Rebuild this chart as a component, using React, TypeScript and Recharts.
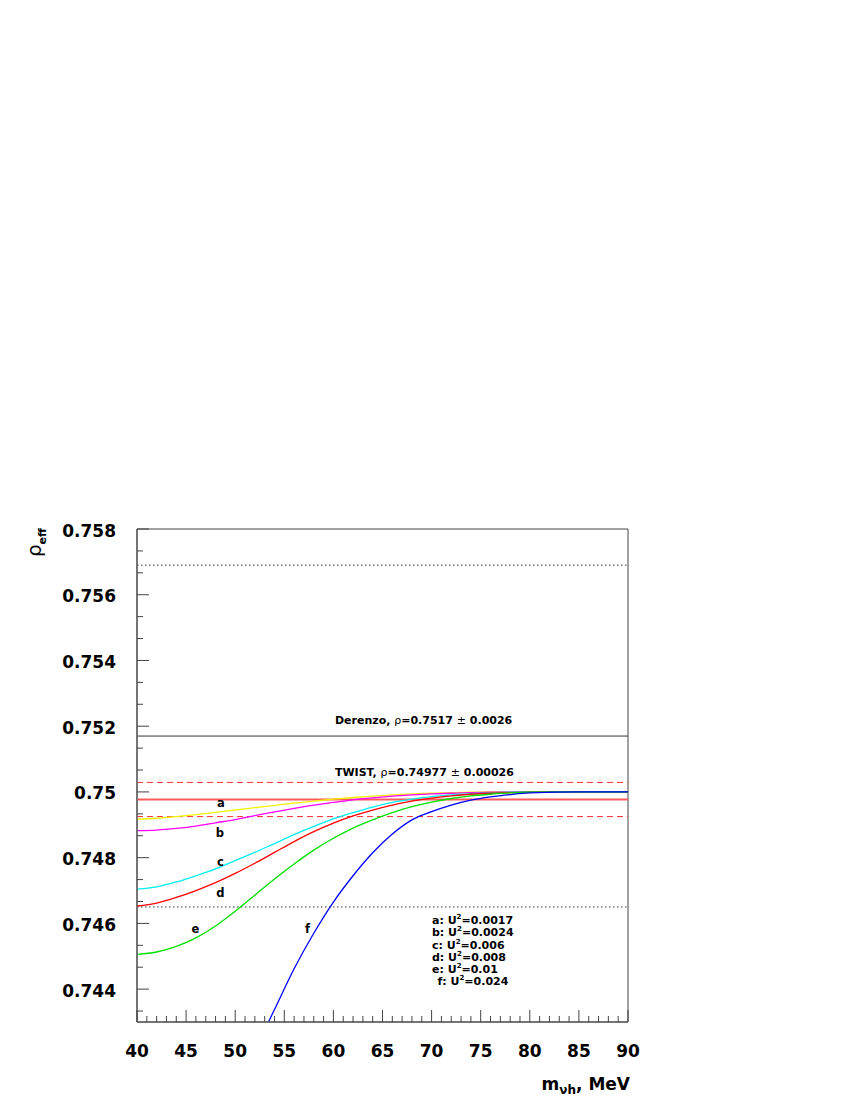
import { LineChart, Line, XAxis, YAxis, ReferenceLine, ReferenceArea, ReferenceDot } from 'recharts';

// heavy-neutrino mass grid (MeV) for curves a-e
const massGrid = [40, 42, 44, 46, 48, 50, 52, 54, 56, 58, 60, 62, 64, 66, 68, 70, 72, 74, 76, 78, 80, 85, 90];
const rhoA = [0.74917, 0.7492, 0.74925, 0.74931, 0.74938, 0.74945, 0.74952, 0.74959, 0.74966, 0.74972, 0.74978, 0.74983, 0.74987, 0.74991, 0.74994, 0.74996, 0.74998, 0.74999, 0.75, 0.75, 0.75, 0.75, 0.75];
const rhoB = [0.74882, 0.74884, 0.74889, 0.74896, 0.74906, 0.74916, 0.74928, 0.74939, 0.7495, 0.7496, 0.74968, 0.74976, 0.74982, 0.74987, 0.74991, 0.74994, 0.74996, 0.74998, 0.74999, 0.75, 0.75, 0.75, 0.75];
const rhoC = [0.74704, 0.74711, 0.74726, 0.74745, 0.74766, 0.74791, 0.74816, 0.74843, 0.7487, 0.74895, 0.74918, 0.74937, 0.74954, 0.74968, 0.74978, 0.74986, 0.74991, 0.74995, 0.74997, 0.74999, 0.75, 0.75, 0.75];
const rhoD = [0.74653, 0.74662, 0.74679, 0.747, 0.74724, 0.74752, 0.74783, 0.74816, 0.74849, 0.74879, 0.74905, 0.74927, 0.74945, 0.7496, 0.74972, 0.74981, 0.74988, 0.74993, 0.74996, 0.74998, 0.74999, 0.75, 0.75];
const rhoE = [0.74506, 0.74513, 0.7453, 0.74556, 0.74592, 0.74637, 0.74686, 0.74735, 0.74781, 0.74823, 0.74859, 0.7489, 0.74915, 0.74937, 0.74955, 0.74969, 0.7498, 0.74988, 0.74993, 0.74997, 0.74999, 0.75, 0.75];

// curve f starts below the visible range
const massF = [50, 52, 54, 56, 58, 60, 62, 64, 66, 68, 70, 72, 74, 76, 78, 80, 85, 90];
const rhoF = [0.7411, 0.74215, 0.74338, 0.74462, 0.7457, 0.74665, 0.74745, 0.74815, 0.74872, 0.74915, 0.7494, 0.7496, 0.74975, 0.74985, 0.74992, 0.74997, 0.75, 0.75];

const curveNames = ['a', 'b', 'c', 'd', 'e', 'f'];
const curveColors = ['#f2f200', '#ff00ff', '#00f0f0', '#ff0000', '#00e000', '#0000ff'];
const couplings = ['0.0017', '0.0024', '0.006', '0.008', '0.01', '0.024'];
const letterMass = [48.55, 48.45, 48.5, 48.5, 45.94, 57.36];
const letterRho = [0.74953, 0.74862, 0.747747, 0.746813, 0.745718, 0.745718];

const derenzo = { center: 0.7517, sigma: 0.0026 };
const twist = { center: 0.74977, sigma: 0.00026 };

const xMajorTicks = [40, 45, 50, 55, 60, 65, 70, 75, 80, 85, 90];
const yMajorTicks = [0.744, 0.746, 0.748, 0.75, 0.752, 0.754, 0.756, 0.758];
const yTickLabels = ['0.744', '0.746', '0.748', '0.75', '0.752', '0.754', '0.756', '0.758'];

const xAllTicks: number[] = [];
for (let m = 40; m <= 90; m++) xAllTicks.push(m);
const yAllTicks: number[] = [];
for (let i = -1; i <= 21; i++) yAllTicks.push(+(0.744 + (i * 0.002) / 3).toFixed(6));

const series = [rhoA, rhoB, rhoC, rhoD, rhoE].map((vals) => vals.map((r, i) => ({ m: massGrid[i], rho: r })));
series.push(rhoF.map((r, i) => ({ m: massF[i], rho: r })));

const FONT = 'DejaVu Sans';

const XTick = (props: any) => {
  const { x, y, payload } = props;
  const idx = xMajorTicks.indexOf(payload.value);
  const major = idx >= 0;
  return (
    <g>
      <line x1={x} x2={x} y1={y} y2={y - (major ? 12 : 6)} stroke="#444" />
      {major && (
        <text x={x} y={y + 35} textAnchor="middle" fontFamily={FONT} fontWeight="bold" fontSize={17} fill="#000">
          {xMajorTicks[idx]}
        </text>
      )}
    </g>
  );
};

const YTick = (props: any) => {
  const { x, y, payload } = props;
  const idx = yMajorTicks.findIndex((t) => Math.abs(t - payload.value) < 1e-7);
  const major = idx >= 0;
  return (
    <g>
      <line x1={x} x2={x + (major ? 12 : 6)} y1={y} y2={y} stroke="#444" />
      {major && (
        <text x={x - 21} y={y + 7.5} textAnchor="end" fontFamily={FONT} fontWeight="bold" fontSize={17} fill="#000">
          {yTickLabels[idx]}
        </text>
      )}
    </g>
  );
};

const xTitle = () => (
  <text x={630} y={1090} textAnchor="end" fontFamily={FONT} fontWeight="bold" fontSize={17} fill="#000">
    m<tspan dy={4} fontSize={12}>νh</tspan>
    <tspan dy={-4}>, MeV</tspan>
  </text>
);

const yTitle = () => (
  <text transform="translate(41,528) rotate(-90)" textAnchor="end" fontFamily={FONT} fontSize={20} fill="#000">
    ρ<tspan dy={5} fontSize={11} fontWeight="bold">eff</tspan>
  </text>
);

const noteText = (title: string, c: { center: number; sigma: number }) => (p: any) => (
  <text x={p.cx} y={p.cy} fontFamily={FONT} fontWeight="bold" fontSize={11} fill="#000">
    {title}, <tspan fontWeight="normal">ρ</tspan>={c.center} <tspan fontWeight="normal">±</tspan> {c.sigma}
  </text>
);

const letterShape = (name: string) => (p: any) => (
  <text x={p.cx} y={p.cy} textAnchor="middle" fontFamily={FONT} fontWeight="bold" fontSize={11.5} fill="#000">
    {name}
  </text>
);

const legendShape = (p: any) => (
  <g>
    {curveNames.map((n, i) => (
      <text key={n} x={p.cx + (n === 'f' ? 5.5 : 0)} y={p.cy + i * 12.3} fontFamily={FONT} fontWeight="bold" fontSize={11} fill="#000">
        {n}: U<tspan dy={-5} fontSize={7}>2</tspan>
        <tspan dy={5}>={couplings[i]}</tspan>
      </text>
    ))}
  </g>
);

export default function App() {
  return (
    <div>
      <style>{'body{margin:0;background:#fff}'}</style>
      <LineChart width={850} height={1100} margin={{ top: 529, right: 222, bottom: 18, left: 37 }}>
        <XAxis
          type="number"
          dataKey="m"
          domain={[40, 90]}
          allowDataOverflow
          ticks={xAllTicks}
          interval={0}
          tickSize={0}
          tickMargin={0}
          tickLine={false}
          tick={<XTick />}
          height={60}
          axisLine={{ stroke: '#666', strokeWidth: 1.5 }}
          label={xTitle}
        />
        <YAxis
          type="number"
          domain={[0.743, 0.758]}
          allowDataOverflow
          ticks={yAllTicks}
          interval={0}
          tickSize={0}
          tickMargin={0}
          tickLine={false}
          tick={<YTick />}
          width={100}
          axisLine={{ stroke: '#666', strokeWidth: 1.5 }}
          label={yTitle}
        />
        <ReferenceArea x1={40} x2={90} y1={0.743} y2={0.758} fill="none" stroke="#444" strokeWidth={1} />
        <ReferenceLine y={derenzo.center + 2 * derenzo.sigma} stroke="#333" strokeDasharray="1.5 2.5" />
        <ReferenceLine y={derenzo.center} stroke="#333" strokeWidth={1} />
        <ReferenceLine y={derenzo.center - 2 * derenzo.sigma} stroke="#333" strokeDasharray="1.5 2.5" />
        <ReferenceLine y={twist.center + 2 * twist.sigma} stroke="#ff3030" strokeDasharray="6 4" />
        <ReferenceLine y={twist.center} stroke="#ff5a5a" strokeWidth={2} />
        <ReferenceLine y={twist.center - 2 * twist.sigma} stroke="#ff3030" strokeDasharray="6 4" />
        {series.map((d, i) => (
          <Line
            key={curveNames[i]}
            data={d}
            dataKey="rho"
            type="monotone"
            stroke={curveColors[i]}
            strokeWidth={1.3}
            dot={false}
            isAnimationActive={false}
          />
        ))}
        <ReferenceDot x={60.16} y={0.752054} r={1} shape={noteText('Derenzo', derenzo)} />
        <ReferenceDot x={60.16} y={0.750486} r={1} shape={noteText('TWIST', twist)} />
        {curveNames.map((n, i) => (
          <ReferenceDot key={n} x={letterMass[i]} y={letterRho[i]} r={1} shape={letterShape(n)} />
        ))}
        <ReferenceDot x={70.04} y={0.745983} r={1} shape={legendShape} />
      </LineChart>
    </div>
  );
}
